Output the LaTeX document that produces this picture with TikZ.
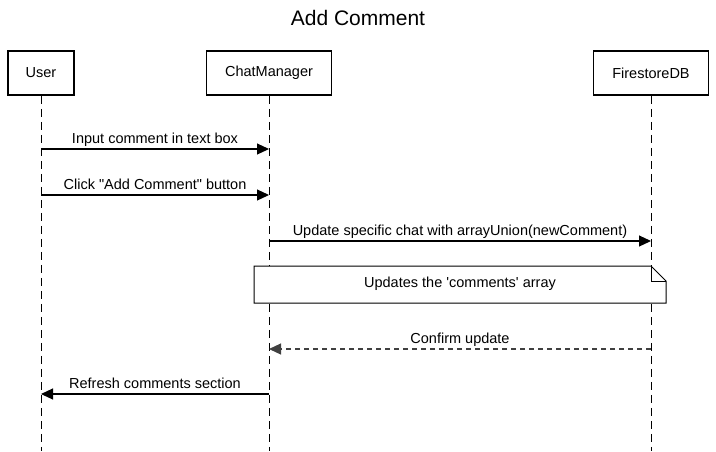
\documentclass[tikz,border=0pt]{standalone}
\usepackage{fontspec}
\newfontfamily\lib{Liberation Sans}
\usetikzlibrary{arrows.meta}
\begin{document}
\begin{tikzpicture}[x=1pt,y=-1pt,
  actor/.style={draw,line width=1.6pt,minimum height=44pt,inner sep=0pt,font=\lib\fontsize{14.5}{17}\selectfont},
  life/.style={line width=0.9pt,dash pattern=on 8pt off 5pt},
  msg/.style={line width=1.2pt,-{Triangle[length=12pt,width=11pt]}},
  reply/.style={msg,dash pattern=on 5pt off 4pt,draw=black!75},
  lbl/.style={font=\lib\fontsize{14.5}{17}\selectfont,inner sep=0pt,anchor=base,yshift=6pt}]
\useasboundingbox (0,0) rectangle (716,451);
\node[font=\lib\fontsize{21}{25}\selectfont] (title) at (358,18) {Add Comment};
\node[actor,minimum width=66pt] (user) at (41,73) {User};
\node[actor,minimum width=125pt] (cm) at (269,73) {ChatManager};
\node[actor,minimum width=115pt] (db) at (651,73) {FirestoreDB};
\coordinate (ue) at (41,451);
\coordinate (ce) at (269,451);
\coordinate (de) at (651,451);
\draw[life] (user.south) -- (ue);
\draw[life] (cm.south) -- (ce);
\draw[life] (db.south) -- (de);
% messages
\coordinate (u1) at (41,149); \coordinate (c1) at (269,149);
\coordinate (u2) at (41,195); \coordinate (c2) at (269,195);
\coordinate (c3) at (269,241); \coordinate (d3) at (651,241);
\coordinate (c5) at (269,349); \coordinate (d5) at (651,349);
\coordinate (u6) at (41,394); \coordinate (c6) at (269,394);
\draw[msg] (u1) -- (c1) node[lbl,midway] {Input comment in text box};
\draw[msg] (u2) -- (c2) node[lbl,midway] {Click "Add Comment" button};
\draw[msg] (c3) -- (d3) node[lbl,midway] {Update specific chat with arrayUnion(newComment)};
\draw[reply] (d5) -- (c5) node[lbl,midway,text=black] {Confirm update};
\draw[msg] (c6) -- (u6) node[lbl,midway] {Refresh comments section};
% note
\draw[line width=1pt,fill=white] (254,266) -- (651,266) -- (666,281) -- (666,303) -- (254,303) -- cycle;
\draw[line width=1pt] (651,266) -- (651,281) -- (666,281);
\node[font=\lib\fontsize{14.5}{17}\selectfont] (note) at (460,284) {Updates the 'comments' array};
\end{tikzpicture}
\end{document}
